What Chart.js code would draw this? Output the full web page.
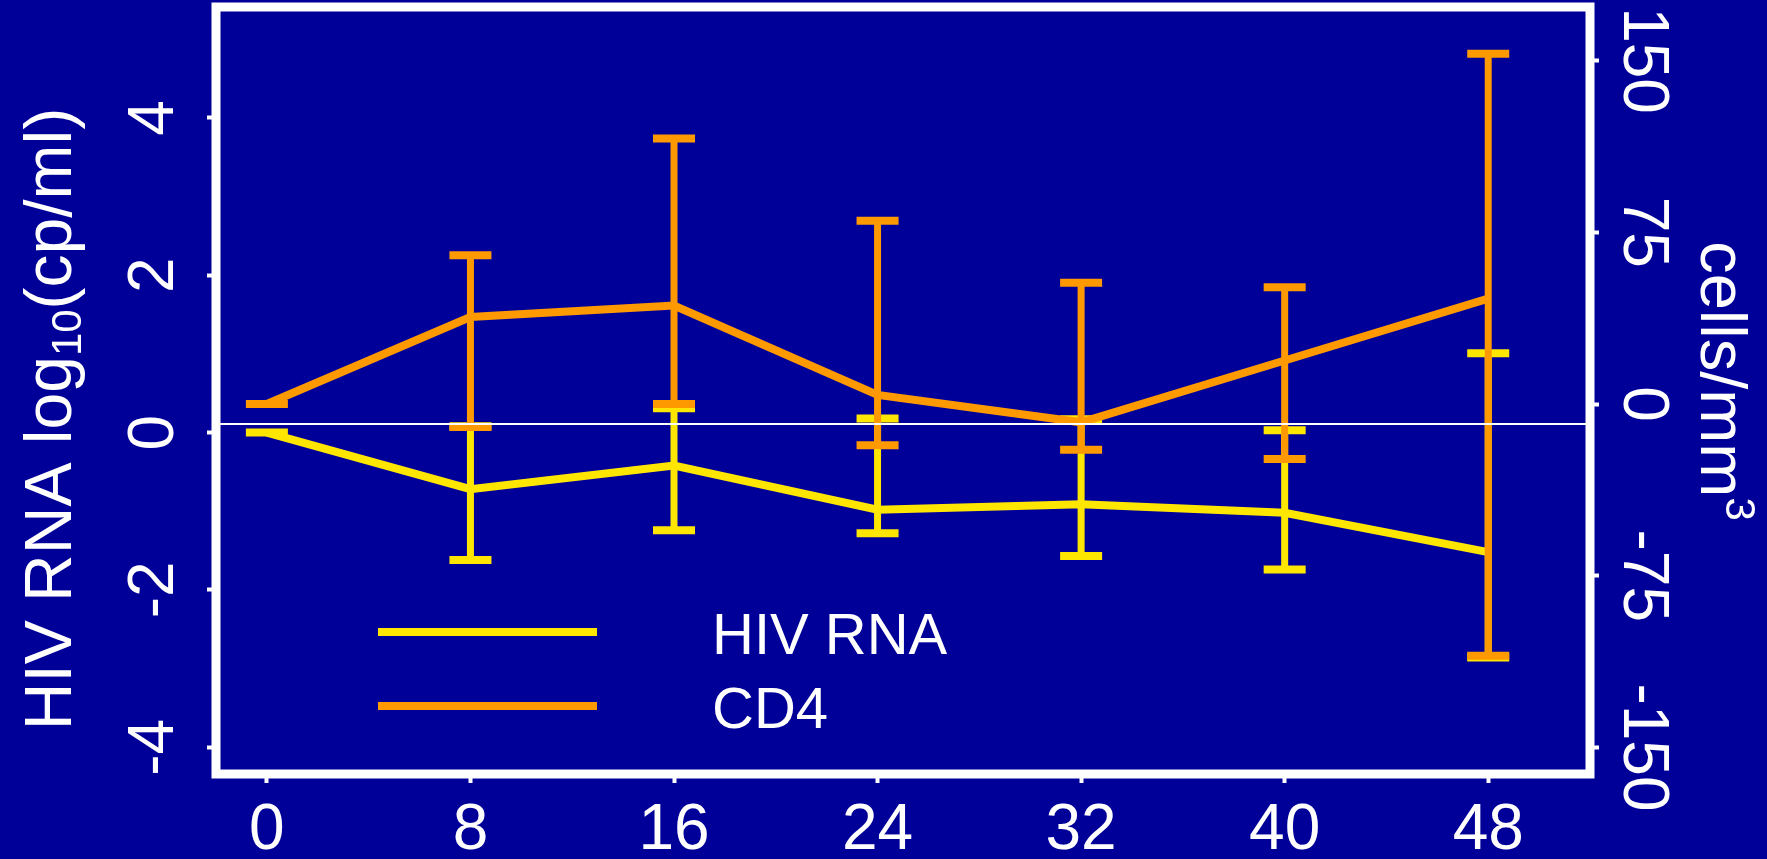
<!DOCTYPE html>
<html>
<head>
<meta charset="utf-8">
<script src="https://cdn.jsdelivr.net/npm/chart.js@4.4.1/dist/chart.umd.min.js"></script>
<style>
  html, body { margin: 0; padding: 0; background: #000099; }
  #wrap { width: 1767px; height: 859px; }
</style>
</head>
<body>
<div id="wrap"><canvas id="chart" width="1767" height="859"></canvas></div>
<script>
// weeks on study
const weeks = [0, 8, 16, 24, 32, 40, 48];

// change in HIV RNA, log10 cp/ml (left axis)
const rnaMean  = [0, -0.72, -0.42, -0.98, -0.91, -1.02, -1.52];
const rnaUpper = [0,  0.08,  0.31,  0.18,  0.17,  0.03,  1.01];
const rnaLower = [0, -1.62, -1.24, -1.28, -1.57, -1.74, -2.86];

// change in CD4, cells/mm3 (right axis)
const cd4Mean  = [0, 38, 43, 4, -8, 19, 46];
const cd4Upper = [0, 65, 116, 80, 53, 51, 153];
const cd4Lower = [0, -10, 0, -18, -20, -24, -110];

const xTicks = [0, 8, 16, 24, 32, 40, 48];
const rnaTicks = [-4, -2, 0, 2, 4];
const cd4Ticks = [-150, -75, 0, 75, 150];
const refLineValue = 0.11; // thin white line, on the RNA axis

const BG = '#000099';
const YELLOW = '#FFE600';
const ORANGE = '#FF9900';
const WHITE = '#FFFFFF';
const NARROW = "'Liberation Sans Narrow', 'Arial Narrow', 'Liberation Sans', Arial, sans-serif";
const SANS = "'Liberation Sans', Arial, sans-serif";
const TICK_SIZE = 64;

// measure labels so rotated tick text can be centred where we want it
const mctx = document.createElement('canvas').getContext('2d');
mctx.font = TICK_SIZE + 'px ' + NARROW;
const widest = labels => Math.max(...labels.map(l => mctx.measureText(String(l)).width));
const leftPad = 51.5 - widest(rnaTicks) / 2;
const rightPad = 42.5 - widest(cd4Ticks) / 2;

const toPoints = (xs, ys) => xs.map((x, i) => ({ x: x, y: ys[i] }));

const errorBars = {
    id: 'errorBars',
    afterDatasetDraw(chart, args) {
        const ds = chart.data.datasets[args.index];
        if (!ds.errUpper) return;
        const ctx = chart.ctx;
        const xs = chart.scales.x;
        const ys = chart.scales[ds.yAxisID];
        ctx.save();
        ctx.strokeStyle = ds.borderColor;
        ctx.lineCap = 'butt';
        ds.data.forEach((p, i) => {
            const px = xs.getPixelForValue(p.x);
            const top = ys.getPixelForValue(ds.errUpper[i]);
            const bot = ys.getPixelForValue(ds.errLower[i]);
            ctx.lineWidth = 7;
            ctx.beginPath();
            ctx.moveTo(px, top);
            ctx.lineTo(px, bot);
            ctx.stroke();
            ctx.lineWidth = 8;
            ctx.beginPath();
            ctx.moveTo(px - 21, top); ctx.lineTo(px + 21, top);
            ctx.moveTo(px - 21, bot); ctx.lineTo(px + 21, bot);
            ctx.stroke();
        });
        ctx.restore();
    }
};

function richText(ctx, parts, cx, cy, angle) {
    ctx.save();
    ctx.translate(cx, cy);
    ctx.rotate(angle);
    ctx.textAlign = 'left';
    ctx.textBaseline = 'alphabetic';
    ctx.fillStyle = WHITE;
    let total = 0;
    parts.forEach(p => {
        ctx.font = p.size + 'px ' + SANS;
        p.w = ctx.measureText(p.text).width;
        total += p.w;
    });
    let x = -total / 2;
    parts.forEach(p => {
        ctx.font = p.size + 'px ' + SANS;
        ctx.fillText(p.text, x, p.dy);
        x += p.w;
    });
    ctx.restore();
}

const decorations = {
    id: 'decorations',
    beforeDraw(chart) {
        const ctx = chart.ctx;
        ctx.save();
        ctx.fillStyle = BG;
        ctx.fillRect(0, 0, chart.width, chart.height);
        ctx.restore();
    },
    afterDatasetsDraw(chart) {
        const ctx = chart.ctx;
        const a = chart.chartArea;
        const y = chart.scales.yRna.getPixelForValue(refLineValue);
        ctx.save();
        ctx.strokeStyle = WHITE;
        ctx.lineWidth = 2;
        ctx.beginPath();
        ctx.moveTo(a.left, y);
        ctx.lineTo(a.right, y);
        ctx.stroke();
        ctx.restore();
    },
    afterDraw(chart) {
        const ctx = chart.ctx;
        const a = chart.chartArea;
        ctx.save();
        // frame
        ctx.strokeStyle = WHITE;
        ctx.lineWidth = 9;
        ctx.strokeRect(a.left, a.top, a.right - a.left, a.bottom - a.top);

        // legend inside the plot
        const rows = [632, 706];
        chart.data.datasets.forEach((ds, i) => {
            ctx.strokeStyle = ds.borderColor;
            ctx.lineWidth = 8;
            ctx.beginPath();
            ctx.moveTo(378, rows[i]);
            ctx.lineTo(597, rows[i]);
            ctx.stroke();
            ctx.fillStyle = WHITE;
            ctx.font = '58px ' + SANS;
            ctx.textBaseline = 'alphabetic';
            ctx.textAlign = 'left';
            ctx.fillText(ds.label, 712, rows[i] + 22);
        });
        ctx.restore();

        // axis titles
        richText(ctx, [
            { text: 'HIV RNA log', size: 66, dy: 0 },
            { text: '10', size: 42, dy: 10 },
            { text: '(cp/ml)', size: 66, dy: 0 }
        ], 71, 419, -Math.PI / 2);
        richText(ctx, [
            { text: 'cells/mm', size: 65, dy: 0 },
            { text: '3', size: 42, dy: -25 }
        ], 1701, 381, Math.PI / 2);
    }
};

const gridOpts = {
    drawOnChartArea: false,
    drawTicks: true,
    tickLength: 9,
    tickWidth: 4,
    tickColor: WHITE
};

const chart = new Chart(document.getElementById('chart'), {
    type: 'line',
    data: {
        datasets: [
            {
                label: 'HIV RNA',
                data: toPoints(weeks, rnaMean),
                yAxisID: 'yRna',
                borderColor: YELLOW,
                borderWidth: 8,
                pointRadius: 0,
                tension: 0,
                order: 1,
                errUpper: rnaUpper,
                errLower: rnaLower
            },
            {
                label: 'CD4',
                data: toPoints(weeks, cd4Mean),
                yAxisID: 'yCd4',
                borderColor: ORANGE,
                borderWidth: 8,
                pointRadius: 0,
                tension: 0,
                order: 0,
                errUpper: cd4Upper,
                errLower: cd4Lower
            }
        ]
    },
    options: {
        responsive: false,
        animation: false,
        devicePixelRatio: 1,
        layout: { padding: { top: 7, left: 0, right: 0, bottom: 0 } },
        plugins: {
            legend: { display: false },
            tooltip: { enabled: false }
        },
        scales: {
            x: {
                type: 'linear',
                position: 'bottom',
                min: -2,
                max: 52,
                border: { display: false },
                grid: gridOpts,
                ticks: {
                    color: WHITE,
                    font: { family: NARROW, size: TICK_SIZE },
                    padding: 10,
                    autoSkip: false,
                    maxRotation: 0
                },
                afterBuildTicks: s => { s.ticks = xTicks.map(v => ({ value: v })); },
                afterFit: s => { s.height = 85; s.paddingLeft = 0; s.paddingRight = 0; }
            },
            yRna: {
                type: 'linear',
                position: 'left',
                min: -4.34,
                max: 5.41,
                border: { display: false },
                grid: gridOpts,
                ticks: {
                    color: WHITE,
                    font: { family: NARROW, size: TICK_SIZE },
                    padding: leftPad,
                    crossAlign: 'center',
                    minRotation: 90,
                    maxRotation: 90,
                    autoSkip: false
                },
                afterBuildTicks: s => { s.ticks = rnaTicks.map(v => ({ value: v })); },
                afterFit: s => { s.width = 216; s.paddingTop = 0; s.paddingBottom = 0; }
            },
            yCd4: {
                type: 'linear',
                position: 'right',
                min: -161.6,
                max: 173.4,
                border: { display: false },
                grid: gridOpts,
                ticks: {
                    color: WHITE,
                    font: { family: NARROW, size: TICK_SIZE },
                    padding: rightPad,
                    crossAlign: 'center',
                    minRotation: -90,
                    maxRotation: -90,
                    autoSkip: false
                },
                afterBuildTicks: s => { s.ticks = cd4Ticks.map(v => ({ value: v })); },
                afterFit: s => { s.width = 177; s.paddingTop = 0; s.paddingBottom = 0; }
            }
        }
    },
    plugins: [errorBars, decorations]
});
</script>
</body>
</html>
